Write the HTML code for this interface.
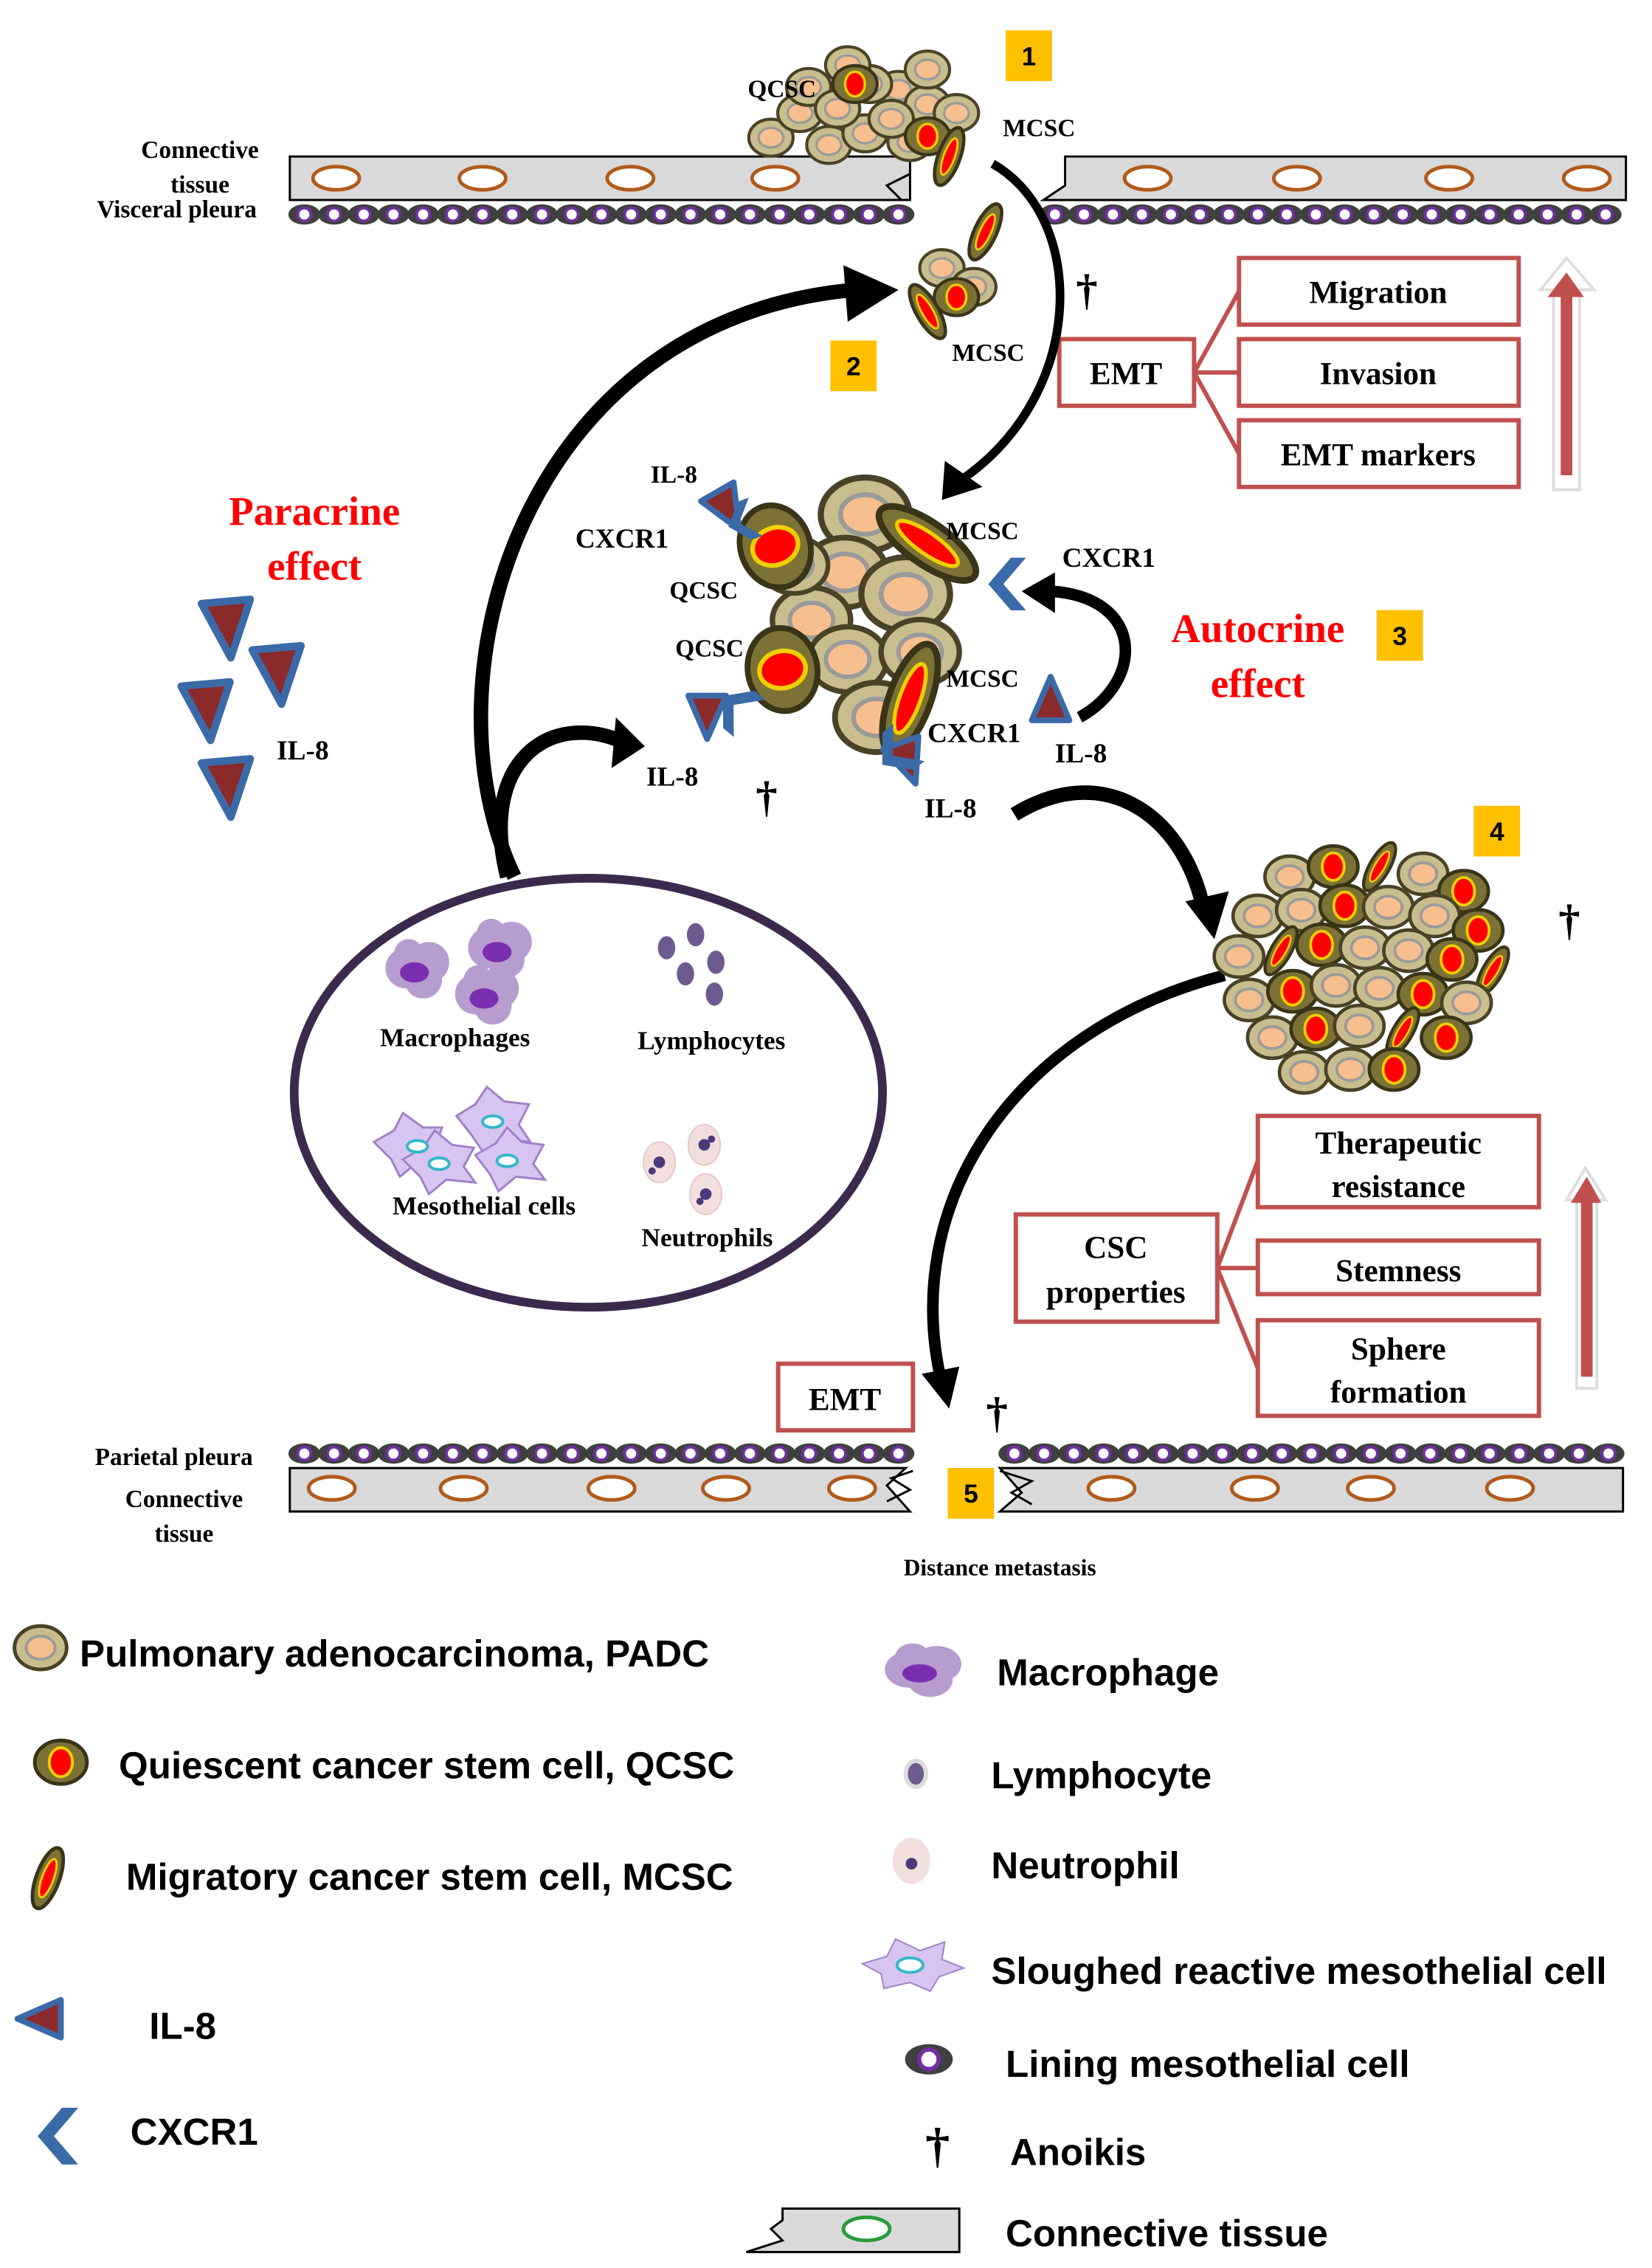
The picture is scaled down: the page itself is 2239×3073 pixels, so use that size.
<!DOCTYPE html>
<html><head><meta charset="utf-8">
<style>
html,body{margin:0;padding:0;background:#fff;}
svg{display:block;}
.s{font-family:"Liberation Serif",serif;font-weight:bold;fill:#000;}
.l{font-family:"Liberation Sans",sans-serif;font-weight:bold;fill:#000;font-size:26px;}
</style></head><body>
<svg id="svg" width="2239" height="3073" viewBox="0 0 1140 1565" preserveAspectRatio="none" xmlns="http://www.w3.org/2000/svg">
<defs>
<g id="padc"><ellipse rx="18" ry="15" fill="#c9bd8f" stroke="#4a4226" stroke-width="2.5"/><ellipse rx="10" ry="8" fill="#f7bf8e" stroke="#9a9a9a" stroke-width="2"/></g>
<g id="qcsc"><ellipse rx="18" ry="15" fill="#7d7236" stroke="#3a3418" stroke-width="2.5"/><ellipse rx="8" ry="10" fill="#f00" stroke="#f0d000" stroke-width="2"/></g>
<g id="mcsc"><ellipse rx="8" ry="22" fill="#7d7236" stroke="#3a3418" stroke-width="2.5"/><ellipse rx="4" ry="14" fill="#f00" stroke="#f0d000" stroke-width="1.5"/></g>
<g id="il8"><polygon points="-13,-10 13,-10 0,20" fill="#8b2a2a" stroke="#3b6aa8" stroke-width="4" stroke-linejoin="round"/></g>
<g id="cx"><polygon points="10,-14 -2,0 10,14 2,14 -10,0 2,-14" fill="#3b6aa8"/></g>
<g id="lin"><ellipse rx="11" ry="7" fill="#404040"/><circle r="4.5" fill="#fff" stroke="#7030a0" stroke-width="2"/></g>
<g id="ov"><ellipse rx="16" ry="8" fill="#fff" stroke="#b05a1a" stroke-width="2.5"/></g>
<g id="mac"><circle cx="-8" cy="0" r="14" fill="#b79ccf"/><circle cx="8" cy="-4" r="14" fill="#b79ccf"/><circle cx="4" cy="8" r="13" fill="#b79ccf"/><circle cx="-6" cy="-10" r="10" fill="#b79ccf"/><ellipse cx="-2" cy="3" rx="10" ry="7" fill="#7a2fb0"/></g>
</defs>

<g id="memtop">
<rect x="200" y="108" width="428" height="30" fill="#d9d9d9" stroke="#000" stroke-width="1.5"/>
<path d="M735,108 L1122,108 L1122,138 L720,138 L735,128 Z" fill="#d9d9d9" stroke="#000" stroke-width="1.5"/>
<path d="M628,120 L612,128 L622,138" fill="none" stroke="#000" stroke-width="1.5"/>
</g>
<g id="membot">
<path d="M200,1013 L625,1013 L612,1025 L628,1043 L200,1043 Z" fill="#d9d9d9" stroke="#000" stroke-width="1.5"/>
<path d="M690,1013 L1120,1013 L1120,1043 L690,1043 L705,1030 Z" fill="#d9d9d9" stroke="#000" stroke-width="1.5"/>
<path d="M630,1015 L615,1020 L628,1028 L612,1036" fill="none" stroke="#000" stroke-width="1.5"/>
<path d="M690,1015 L712,1022 L698,1030 L712,1038" fill="none" stroke="#000" stroke-width="1.5"/>
</g>
<g id="dyn"></g>

<text class="s" font-size="17" x="138" y="109" text-anchor="middle">Connective</text>
<text class="s" font-size="17" x="138" y="133" text-anchor="middle">tissue</text>
<text class="s" font-size="17" x="122" y="150" text-anchor="middle">Visceral pleura</text>
<text class="s" font-size="17" x="120" y="1011" text-anchor="middle">Parietal pleura</text>
<text class="s" font-size="17" x="127" y="1040" text-anchor="middle">Connective</text>
<text class="s" font-size="17" x="127" y="1064" text-anchor="middle">tissue</text>
<text class="s" font-size="16" x="690" y="1087" text-anchor="middle">Distance metastasis</text>

<g font-family="Liberation Sans,sans-serif" font-weight="bold" font-size="18">
<rect x="694" y="21" width="32" height="35" fill="#ffc000"/><text x="710" y="45" text-anchor="middle">1</text>
<rect x="573" y="235" width="32" height="35" fill="#ffc000"/><text x="589" y="259" text-anchor="middle">2</text>
<rect x="950" y="421" width="32" height="35" fill="#ffc000"/><text x="966" y="445" text-anchor="middle">3</text>
<rect x="1017" y="556" width="32" height="35" fill="#ffc000"/><text x="1033" y="580" text-anchor="middle">4</text>
<rect x="654" y="1013" width="32" height="35" fill="#ffc000"/><text x="670" y="1037" text-anchor="middle">5</text>
</g>

<g fill="#fff" stroke="#c0504d" stroke-width="3">
<rect x="731" y="234" width="93" height="46"/>
<rect x="855" y="178" width="193" height="46"/>
<rect x="855" y="234" width="193" height="46"/>
<rect x="855" y="290" width="193" height="46"/>
<path d="M824,257 L855,201 M824,257 L855,257 M824,257 L855,313" fill="none"/>
<rect x="701" y="838" width="139" height="74"/>
<rect x="868" y="770" width="194" height="63"/>
<rect x="868" y="856" width="194" height="37"/>
<rect x="868" y="911" width="194" height="66"/>
<path d="M840,875 L868,801 M840,875 L868,875 M840,875 L868,944" fill="none"/>
<rect x="537" y="941" width="93" height="46"/>
</g>
<g class="s" font-size="22" text-anchor="middle">
<text x="777" y="265">EMT</text>
<text x="951" y="209">Migration</text>
<text x="951" y="265">Invasion</text>
<text x="951" y="321">EMT markers</text>
<text x="770" y="868">CSC</text>
<text x="770" y="899">properties</text>
<text x="965" y="796">Therapeutic</text>
<text x="965" y="826">resistance</text>
<text x="965" y="884">Stemness</text>
<text x="965" y="938">Sphere</text>
<text x="965" y="968">formation</text>
<text x="583" y="973">EMT</text>
</g>
<path d="M1063,200 L1081,178 L1100,200 L1090,200 L1090,338 L1072,338 L1072,200 Z" fill="#fff" stroke="#ddd" stroke-width="2"/>
<path d="M1068,205 L1081,188 L1093,205 L1085,205 L1085,328 L1077,328 L1077,205 Z" fill="#c0504d"/>
<path d="M1081,828 L1094,806 L1108,828 L1102,828 L1102,958 L1088,958 L1088,828 Z" fill="#fff" stroke="#ddd" stroke-width="2"/>
<path d="M1084,830 L1095,812 L1105,830 L1099,830 L1099,950 L1091,950 L1091,830 Z" fill="#c0504d"/>

<g font-family="Liberation Serif,serif" font-weight="bold" font-size="28" fill="#f00" text-anchor="middle">
<text x="217" y="362">Paracrine</text><text x="217" y="400">effect</text>
<text x="868" y="443">Autocrine</text><text x="868" y="481">effect</text>
</g>

<ellipse cx="406" cy="754" rx="203" ry="148" fill="#fff" stroke="#3b2a4e" stroke-width="6"/>
<use href="#mac" x="288" y="668"/><use href="#mac" x="345" y="654"/><use href="#mac" x="336" y="686"/>
<g fill="#6d5a8e"><ellipse cx="460" cy="654" rx="6" ry="8"/><ellipse cx="480" cy="645" rx="6" ry="8"/><ellipse cx="473" cy="672" rx="6" ry="8"/><ellipse cx="494" cy="664" rx="6" ry="8"/><ellipse cx="493" cy="686" rx="6" ry="8"/></g>
<g fill="#d8c4f0" stroke="#a080c8" stroke-width="1.5">
<polygon points="258,788 272,780 278,768 292,778 305,778 300,792 306,804 288,802 276,812 270,800"/>
<polygon points="315,770 328,762 336,750 348,760 365,762 358,776 366,788 346,786 334,796 326,784"/>
<polygon points="278,800 292,792 300,780 312,790 327,792 320,805 328,816 308,814 296,824 290,812"/>
<polygon points="328,797 342,789 350,778 360,788 375,790 368,803 376,814 356,812 344,822 338,810"/>
</g>
<g fill="#fff" stroke="#30b8c8" stroke-width="2"><ellipse cx="288" cy="791" rx="7" ry="4"/><ellipse cx="340" cy="774" rx="7" ry="4"/><ellipse cx="303" cy="803" rx="7" ry="4"/><ellipse cx="350" cy="801" rx="7" ry="4"/></g>
<g fill="#f3dede" stroke="#e8c8c8"><ellipse cx="455" cy="802" rx="11" ry="14"/><ellipse cx="486" cy="790" rx="11" ry="14"/><ellipse cx="487" cy="824" rx="11" ry="14"/></g>
<g fill="#4a3a7a"><circle cx="455" cy="802" r="4"/><circle cx="486" cy="790" r="4"/><circle cx="487" cy="824" r="4"/><circle cx="450" cy="808" r="2.5"/><circle cx="491" cy="786" r="2.5"/><circle cx="483" cy="829" r="2.5"/></g>
<g class="s" font-size="18" text-anchor="middle">
<text x="314" y="722">Macrophages</text>
<text x="491" y="724">Lymphocytes</text>
<text x="334" y="838">Mesothelial cells</text>
<text x="488" y="860">Neutrophils</text>
</g>

<g fill="none" stroke="#000" stroke-linecap="butt">
<path d="M355,605 C290,470 360,220 590,200" stroke-width="10"/>
<path d="M350,605 C330,525 380,490 430,512" stroke-width="10"/>
<path d="M685,113 C750,150 750,270 665,330" stroke-width="6"/>
<path d="M745,495 C790,470 790,412 725,408" stroke-width="8"/>
<path d="M700,562 C760,525 815,560 830,625" stroke-width="10"/>
<path d="M845,673 C700,710 620,830 650,955" stroke-width="8"/>
</g>
<g fill="#000">
<polygon points="582,183 620,200 585,222"/>
<polygon points="425,495 445,515 422,530"/>
<polygon points="652,318 650,345 678,336"/>
<polygon points="728,395 705,408 728,423"/>
<polygon points="818,622 838,648 848,615"/>
<polygon points="636,948 655,972 662,943"/>
</g>

<g class="s" font-size="30" text-anchor="middle">
<text x="750" y="210">†</text><text x="529" y="560">†</text><text x="1083" y="645">†</text><text x="688" y="985">†</text>
</g>

<g id="dyn2"></g>

<g class="s" font-size="17" font-family="Liberation Sans,sans-serif">
<text x="516" y="67">QCSC</text><text x="692" y="94">MCSC</text><text x="657" y="249">MCSC</text>
<text x="449" y="333">IL-8</text><text x="397" y="378" font-family="Liberation Serif,serif" font-size="19">CXCR1</text>
<text x="462" y="413">QCSC</text><text x="466" y="453">QCSC</text>
<text x="653" y="372">MCSC</text><text x="653" y="474">MCSC</text>
<text x="733" y="391" font-family="Liberation Serif,serif" font-size="19">CXCR1</text>
<text x="640" y="512" font-family="Liberation Serif,serif" font-size="19">CXCR1</text>
<text x="728" y="526" font-family="Liberation Serif,serif" font-size="19">IL-8</text>
<text x="446" y="542" font-family="Liberation Serif,serif" font-size="19">IL-8</text>
<text x="638" y="564" font-family="Liberation Serif,serif" font-size="19">IL-8</text>
<text x="191" y="524" font-family="Liberation Serif,serif" font-size="19">IL-8</text>
</g>

<g class="l">
<text x="55" y="1150">Pulmonary adenocarcinoma, PADC</text>
<text x="82" y="1227">Quiescent cancer stem cell, QCSC</text>
<text x="87" y="1304">Migratory cancer stem cell, MCSC</text>
<text x="103" y="1407">IL-8</text>
<text x="90" y="1480">CXCR1</text>
<text x="688" y="1163">Macrophage</text>
<text x="684" y="1234">Lymphocyte</text>
<text x="684" y="1296">Neutrophil</text>
<text x="684" y="1369">Sloughed reactive mesothelial cell</text>
<text x="694" y="1433">Lining mesothelial cell</text>
<text x="697" y="1494">Anoikis</text>
<text x="694" y="1550">Connective tissue</text>
</g>
<use href="#padc" x="28" y="1137"/>
<use href="#qcsc" x="42" y="1216"/>
<g transform="translate(33,1296) rotate(20)"><use href="#mcsc"/></g>
<g transform="translate(32,1393) rotate(90)"><use href="#il8"/></g>
<g transform="translate(40,1474) scale(1.4)"><use href="#cx"/></g>
<g transform="translate(637,1152) scale(1.2,0.9)"><use href="#mac"/></g>
<ellipse cx="632" cy="1224" rx="7" ry="9" fill="#6d5a8e" stroke="#ddd" stroke-width="3"/>
<ellipse cx="629" cy="1284" rx="13" ry="16" fill="#f3dede"/><circle cx="629" cy="1286" r="4" fill="#4a3a7a"/>
<polygon points="595,1355 612,1350 618,1338 635,1346 652,1340 650,1352 665,1358 648,1364 642,1374 628,1368 610,1372 608,1362" fill="#d8c4f0" stroke="#a080c8"/>
<ellipse cx="628" cy="1356" rx="9" ry="5" fill="#fff" stroke="#30b8c8" stroke-width="2"/>
<g transform="translate(641,1421) scale(1.5)"><use href="#lin"/></g>
<text class="s" font-size="34" x="647" y="1492" text-anchor="middle">†</text>
<path d="M540,1524 L662,1524 L662,1554 L515,1554 L540,1546 L532,1538 L540,1532 Z" fill="#d9d9d9" stroke="#000" stroke-width="1.5"/>
<ellipse cx="598" cy="1538" rx="16" ry="8" fill="#fff" stroke="#2a9a3a" stroke-width="2.5"/>

<script>
var NS="http://www.w3.org/2000/svg",d=document.getElementById("dyn"),d2=document.getElementById("dyn2");
function u(id,x,y,r,s,t){var g=document.createElementNS(NS,"g");g.setAttribute("transform","translate("+x+","+y+") rotate("+(r||0)+") scale("+(s||1)+")");var e=document.createElementNS(NS,"use");e.setAttribute("href","#"+id);g.appendChild(e);(t||d).appendChild(g);}
var i;
[232,333,435,535,792,895,1000,1095].forEach(function(x){u("ov",x,123);});
[229,320,422,501,588,767,866,946,1042].forEach(function(x){u("ov",x,1027);});
for(i=210;i<=630;i+=20.5)u("lin",i,148);
for(i=728;i<=1118;i+=20)u("lin",i,148);
for(i=210;i<=630;i+=20.5)u("lin",i,1003);
for(i=700;i<=1118;i+=20.5)u("lin",i,1003);
// cluster 1
[[532,95],[552,78],[572,100],[597,92],[620,62],[640,72],[660,78],[628,98],[600,58],[558,60],[585,45],[640,48],[615,82],[578,75]].forEach(function(p){u("padc",p[0],p[1],0,0.85,d2);});
u("qcsc",590,58,0,0.85,d2);u("qcsc",640,94,0,0.85,d2);u("mcsc",655,108,20,0.95,d2);
// cluster 2
u("padc",650,185,0,0.85,d2);u("padc",672,198,0,0.85,d2);u("mcsc",680,160,25,0.95,d2);u("qcsc",660,205,0,0.85,d2);u("mcsc",640,215,-30,0.95,d2);
// cluster 3
[[597,355,1.7],[583,395,1.6],[560,428,1.5],[625,410,1.7],[585,455,1.5],[605,495,1.6],[635,450,1.5],[548,390,1.3]].forEach(function(p){u("padc",p[0],p[1],0,p[2],d2);});
u("qcsc",535,377,70,1.6,d2);u("qcsc",540,462,80,1.6,d2);u("mcsc",640,375,-55,1.8,d2);u("mcsc",628,482,20,1.8,d2);
u("il8",500,348,-30,1,d2);u("cx",512,360,-20,1,d2);u("cx",695,403,0,1.3,d2);u("il8",488,490,0,1,d2);u("cx",508,488,40,1.2,d2);u("il8",725,487,180,1,d2);u("il8",625,522,-20,1,d2);u("cx",618,520,-40,1.2,d2);
// free IL-8
u("il8",157,428,-5,1.3);u("il8",192,460,-5,1.3);u("il8",143,485,-5,1.3);u("il8",157,538,-5,1.3);
// cluster 4
var c=[[890,605],[920,598],[952,598],[982,603],[1010,615],[868,632],[898,628],[928,625],[958,626],[990,632],[1020,642],[855,660],[884,656],[912,652],[942,654],[972,656],[1002,662],[1030,670],[862,690],[892,684],[922,680],[952,682],[982,686],[1012,692],[878,716],[908,710],[938,708],[968,712],[998,716],[900,740],[932,738],[962,738]];
c.forEach(function(p,k){if(k%3==1)u("qcsc",p[0],p[1],0,0.95,d2);else if(k%5==2)u("mcsc",p[0],p[1],30,0.85,d2);else u("padc",p[0],p[1],0,0.95,d2);});
</script>
</svg>
</body></html>
